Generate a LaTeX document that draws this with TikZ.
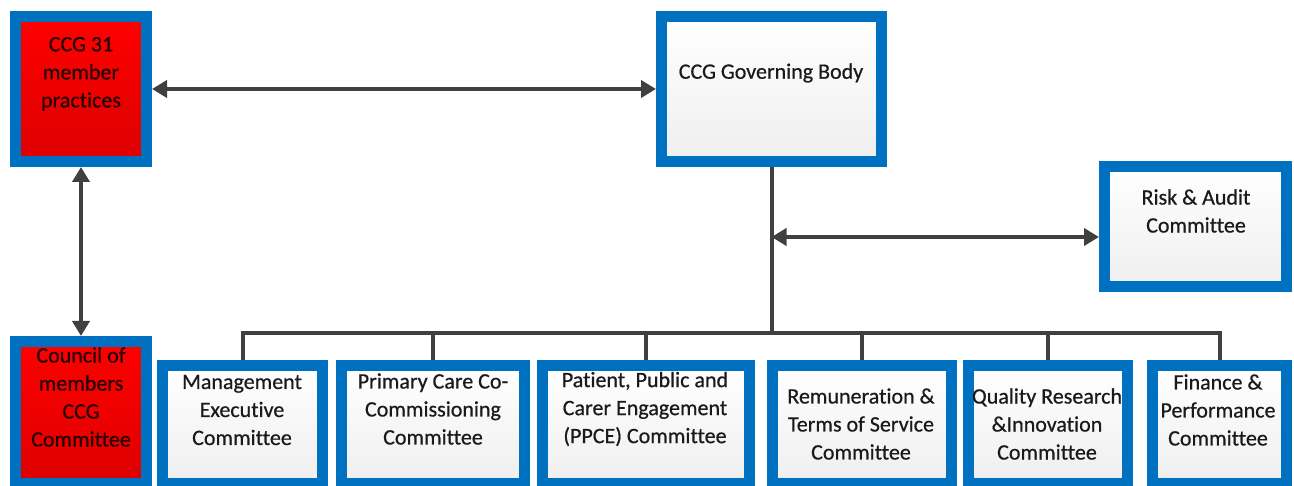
\documentclass[tikz,border=0pt]{standalone}
\usepackage{fontspec}
\setmainfont{Carlito}[Ligatures=NoCommon]
\newfontface\boxfont{Carlito}[Ligatures=NoCommon, FakeBold=0.6]
\usetikzlibrary{arrows.meta}
\definecolor{boxblue}{HTML}{0070C0}
\definecolor{linegray}{HTML}{404040}
\definecolor{txtgray}{HTML}{1A1A1A}
\definecolor{boxred}{HTML}{FF0000}
\definecolor{boxredlow}{HTML}{DD0000}

\begin{document}
\begin{tikzpicture}[x=1pt, y=-1pt,
    box/.style={draw=boxblue, line width=11pt, outer sep=5.5pt, inner sep=0pt,
        top color=white, bottom color=gray!13},
    redbox/.style={box, top color=boxred, bottom color=boxredlow},
    lbl/.style={font=\boxfont\fontsize{22}{28}\selectfont, align=center, text=txtgray},
    redlbl/.style={lbl, text=black!85!red},
    link/.style={draw=linegray, line width=4pt},
    >={Triangle[length=15pt,width=17pt]}]
\useasboundingbox (0,0) rectangle (1294,486);

% top row
\node[redbox, minimum width=131, minimum height=145] (memb) at (81,89) {};
\node[box, minimum width=220, minimum height=145] (gov) at (771.5,89) {};
\node[box, minimum width=182, minimum height=120] (risk) at (1195.5,226.5) {};
\node[redbox, minimum width=131, minimum height=142] (council) at (81,412.5) {};

% committees
\node[box, minimum width=160, minimum height=118] (mgmt) at (242.5,424.5) {};
\node[box, minimum width=183, minimum height=118] (prim) at (433,424.5) {};
\node[box, minimum width=207, minimum height=118] (ppce) at (646,424.5) {};
\node[box, minimum width=179, minimum height=118] (remun) at (862,424.5) {};
\node[box, minimum width=159, minimum height=118] (qual) at (1048,424.5) {};
\node[box, minimum width=134, minimum height=118] (fin) at (1219.5,424.5) {};

% texts
\node[redlbl] (membtxt) at (81,74) {CCG 31\\member\\practices};
\node[lbl] (govtxt) at (771,73) {CCG Governing Body};
\node[lbl] (risktxt) at (1196,211) {Risk \& Audit\\Committee};
\node[redlbl] (counciltxt) at (81,397) {Council of\\members\\CCG\\Committee};
\node[lbl] (mgmttxt) at (242,410) {Management\\Executive\\Committee};
\node[lbl] (primtxt) at (433,409) {Primary Care Co-\\Commissioning\\Committee};
\node[lbl] (ppcetxt) at (645,409) {Patient, Public and\\Carer Engagement\\(PPCE) Committee};
\node[lbl] (remuntxt) at (861,424) {Remuneration \&\\Terms of Service\\Committee};
\node[lbl] (qualtxt) at (1047,424) {Quality Research\\\&Innovation\\Committee};
\node[lbl] (fintxt) at (1218,410) {Finance \&\\Performance\\Committee};

% connectors
\coordinate (bus) at (771.5,333);
\coordinate (riskjoin) at (771.5,237);
\draw[link, <->] (memb.east) -- (gov.west);
\draw[link, <->] (memb.south) -- (council.north);
\draw[link] (gov.south) -- (bus);
\draw[link, <->] (riskjoin) -- (riskjoin -| risk.west);
\draw[link] (mgmt.north) |- (bus) -| (fin.north);
\foreach \n in {prim,ppce,remun,qual}
    \draw[link] (\n.north) -- (\n.north |- bus);
\end{tikzpicture}
\end{document}
